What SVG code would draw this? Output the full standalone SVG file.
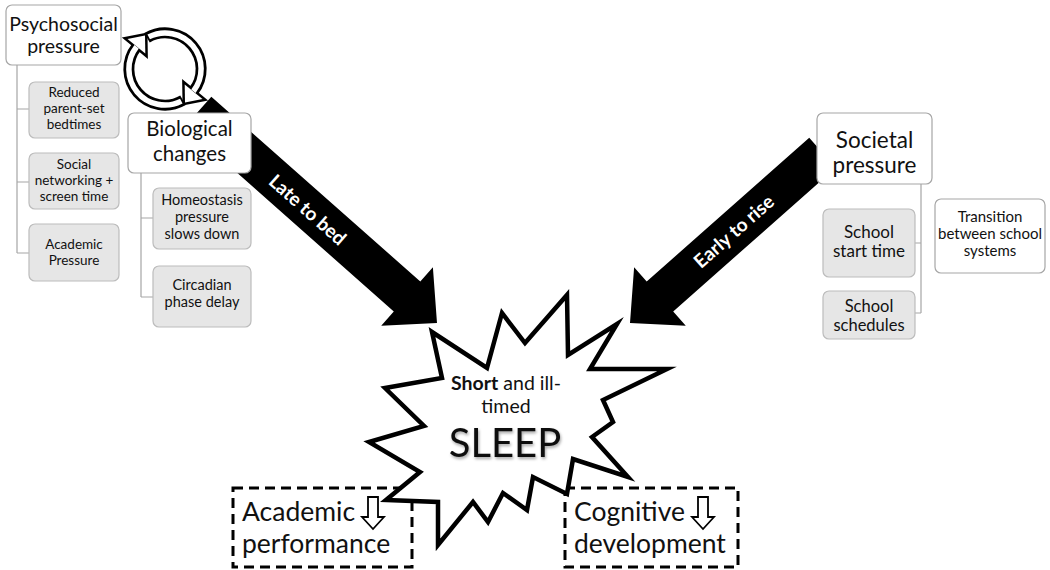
<svg xmlns="http://www.w3.org/2000/svg" width="1050" height="570" viewBox="0 0 1050 570">
<style>
text{font-family:Lato,"Open Sans","Liberation Sans",sans-serif;fill:#111;text-anchor:middle}
.main{fill:#fff;stroke:#a6a6a6;stroke-width:1.2}
.sub{fill:#e6e6e6;stroke:#bcbcbc;stroke-width:1.2}
.h{font-size:20px}
.s{font-size:13.5px}
.s2{font-size:14.5px}
.conn{fill:none;stroke:#a6a6a6;stroke-width:1.2}
.big{fill:#000}
.lbl{fill:#fff;font-weight:bold;font-size:19px}
.dash{fill:none;stroke:#000;stroke-width:3;stroke-dasharray:10 6}
.bt{font-size:26.5px;text-anchor:start}
.down{fill:#fff;stroke:#000;stroke-width:1.8;stroke-linejoin:miter}
</style>
<defs>
<filter id="sh" x="-10%" y="-20%" width="130%" height="150%">
<feDropShadow dx="1" dy="2" stdDeviation="1.4" flood-color="#000" flood-opacity="0.35"/>
</filter>
</defs>
<rect width="1050" height="570" fill="#fff"/>

<g id="connectors">
<path class="conn" d="M17,65 V253 M17,109 H29 M17,182 H29 M17,253 H29"/>
<path class="conn" d="M141,173 V297 M141,218 H153 M141,297 H153"/>
<path class="conn" d="M921,184 V313 M921,243 H915 M921,313 H915"/>
<g id="late-to-bed">
<polygon class="big" transform="translate(437,323) rotate(41.5)" points="-319,-20 -40,-20 -40,-39 0,0 -40,39 -40,20 -319,20"/>
<text class="lbl" transform="translate(307.5,210) rotate(41.5)" dy="6.5">Late to bed</text>
</g>
<g id="early-to-rise">
<polygon class="big" transform="translate(630,323) rotate(138.5)" points="-257,-20 -40,-20 -40,-39 0,0 -40,39 -40,20 -257,20"/>
<text class="lbl" transform="translate(734,231.5) rotate(-41.5)" dy="6.5">Early to rise</text>
</g>
</g>

<g id="cycle-icon">
<path d="M147,37.8 A36,36 0 0 1 193.4,91.2" fill="none" stroke="#000" stroke-width="11"/>
<path d="M183,100.2 A36,36 0 0 1 136.6,46.8" fill="none" stroke="#000" stroke-width="11"/>
<polygon points="184.7,84.4 202.5,99 185,102.5" fill="#000" stroke="#000" stroke-width="5" stroke-linejoin="miter"/>
<polygon points="145.3,53.6 127.5,39 145,35.5" fill="#000" stroke="#000" stroke-width="5" stroke-linejoin="miter"/>
<path d="M148.7,36.9 A36,36 0 0 1 193.4,91.2" fill="none" stroke="#fff" stroke-width="5.5"/>
<path d="M181.3,101.1 A36,36 0 0 1 136.6,46.8" fill="none" stroke="#fff" stroke-width="5.5"/>
<polygon points="184.7,84.4 202.5,99 185,102.5" fill="#fff"/>
<polygon points="145.3,53.6 127.5,39 145,35.5" fill="#fff"/>
</g>

<g id="psychosocial">
<rect class="main" x="6" y="5" width="115" height="60" rx="6"/>
<text class="h" x="63.5" y="31" style="font-size:19.5px">Psychosocial</text>
<text class="h" x="63.5" y="53" style="font-size:19.5px">pressure</text>
</g>
<g id="reduced-bedtimes">
<rect class="sub" x="29" y="82" width="90" height="56" rx="6"/>
<text class="s" x="74" y="97">Reduced</text>
<text class="s" x="74" y="113">parent-set</text>
<text class="s" x="74" y="129">bedtimes</text>
</g>
<g id="social-networking">
<rect class="sub" x="29" y="153" width="90" height="56" rx="6"/>
<text class="s" x="74" y="169">Social</text>
<text class="s" x="74" y="185">networking +</text>
<text class="s" x="74" y="201">screen time</text>
</g>
<g id="academic-pressure">
<rect class="sub" x="29" y="224" width="90" height="57" rx="6"/>
<text class="s" x="74" y="249">Academic</text>
<text class="s" x="74" y="265">Pressure</text>
</g>

<g id="biological">
<rect class="main" x="128" y="113" width="123" height="60" rx="6"/>
<text class="h" x="189.5" y="136" style="font-size:20.5px">Biological</text>
<text class="h" x="189.5" y="161" style="font-size:20.5px">changes</text>
</g>
<g id="homeostasis">
<rect class="sub" x="153" y="188" width="98" height="61" rx="6"/>
<text class="s2" x="202" y="205">Homeostasis</text>
<text class="s2" x="202" y="222">pressure</text>
<text class="s2" x="202" y="239">slows down</text>
</g>
<g id="circadian">
<rect class="sub" x="153" y="266" width="98" height="61" rx="6"/>
<text class="s2" x="202" y="290">Circadian</text>
<text class="s2" x="202" y="307">phase delay</text>
</g>

<g id="societal">
<rect class="main" x="817" y="113" width="115" height="71" rx="6"/>
<text class="h" x="874.5" y="148" style="font-size:22.5px">Societal</text>
<text class="h" x="874.5" y="173" style="font-size:22.5px">pressure</text>
</g>
<g id="school-start">
<rect class="sub" x="823" y="209" width="92" height="68" rx="6"/>
<text x="869" y="238" style="font-size:17px">School</text>
<text x="869" y="257" style="font-size:17px">start time</text>
</g>
<g id="school-schedules">
<rect class="sub" x="823" y="291" width="92" height="48" rx="6"/>
<text x="869" y="312" style="font-size:16.5px">School</text>
<text x="869" y="331" style="font-size:16.5px">schedules</text>
</g>
<g id="transition">
<rect class="main" x="935" y="199" width="110" height="74" rx="6"/>
<text x="990" y="222" style="font-size:15px">Transition</text>
<text x="990" y="239" style="font-size:15px">between school</text>
<text x="990" y="256" style="font-size:15px">systems</text>
</g>

<g id="academic-performance">
<rect class="dash" x="233" y="488" width="179" height="79"/>
<text class="bt" x="242" y="521">Academic</text>
<text class="bt" x="242" y="553">performance</text>
<polygon class="down" points="368,497 378,497 378,517 384,517 373,529 362,517 368,517"/>
</g>
<g id="cognitive-development">
<rect class="dash" x="565" y="488" width="173" height="79"/>
<text class="bt" x="574" y="521">Cognitive</text>
<text class="bt" x="574" y="553">development</text>
<polygon class="down" points="698,497 708,497 708,517 714,517 703,529 692,517 698,517"/>
</g>

<g id="sleep">
<polygon points="567,295 568,355 617,324 590,369 667,369 603,400 613,422 592,437 628,477 573,459 567,494 533,477 527,510 503,493 488,522 473,502 438,545 438,502 386,500 420,472 369,442 424,426 385,388 442,378 432,332 487,368 502,313 525,343" fill="#fff" stroke="#000" stroke-width="4.5" stroke-linejoin="miter" stroke-miterlimit="10"/>
<text x="506" y="390" style="font-size:19.5px"><tspan font-weight="bold">Short</tspan> and ill-</text>
<text x="506" y="413" style="font-size:19.5px">timed</text>
<text x="505" y="457" style="font-size:40px" filter="url(#sh)">SLEEP</text>
</g>
</svg>
